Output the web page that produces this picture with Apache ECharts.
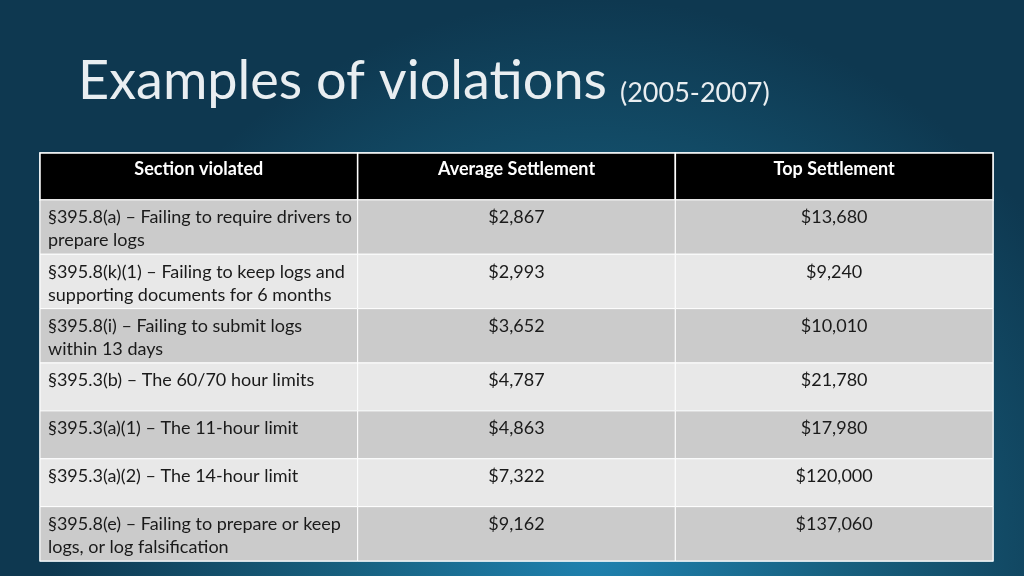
<!DOCTYPE html>
<html>
<head>
<meta charset="utf-8">
<script src="https://cdn.jsdelivr.net/npm/echarts@6/dist/echarts.min.js"></script>
<style>
  html, body { margin: 0; padding: 0; }
  #main { width: 1024px; height: 576px; }
</style>
</head>
<body>
<div id="main"></div>
<script>
// table content
var columns = ['Section violated', 'Average Settlement', 'Top Settlement'];
var sections = [
  '§395.8(a) – Failing to require drivers to\nprepare logs',
  '§395.8(k)(1) – Failing to keep logs and\nsupporting documents for 6 months',
  '§395.8(i) – Failing to submit logs\nwithin 13 days',
  '§395.3(b) – The 60/70 hour limits',
  '§395.3(a)(1) – The 11-hour limit',
  '§395.3(a)(2) – The 14-hour limit',
  '§395.8(e) – Failing to prepare or keep\nlogs, or log falsification'
];
var averageSettlement = [2867, 2993, 3652, 4787, 4863, 7322, 9162];
var topSettlement = [13680, 9240, 10010, 21780, 17980, 120000, 137060];

function money(v) { return '$' + v.toLocaleString('en-US'); }

// rows: header first, then body rows; height depends on line count
var rows = [columns];
for (var i = 0; i < sections.length; i++) {
  rows.push([sections[i], money(averageSettlement[i]), money(topSettlement[i])]);
}
function rowSize(r) {
  if (r === 0) return 47;
  return rows[r][0].split('\n').length > 1 ? 54.5 : 48;
}

var cells = [];
var y = 0;
for (var r = 0; r < rows.length; r++) {
  var h = rowSize(r);
  for (var c = 0; c < 3; c++) {
    cells.push([c, y, y + h, r]);
  }
  y += h;
}
var total = y;

var FONT = 'Lato, "Open Sans", sans-serif';

var chart = echarts.init(document.getElementById('main'));
chart.setOption({
  backgroundColor: {
    type: 'radial', x: 0.58, y: 0.95, r: 0.95,
    colorStops: [
      { offset: 0, color: '#1f82b0' },
      { offset: 0.45, color: '#17607f' },
      { offset: 1, color: '#0e3850' }
    ]
  },
  title: [
    { text: 'Examples of violations', left: 73, top: 50,
      textStyle: { color: '#e9eef1', fontFamily: FONT, fontSize: 54, fontWeight: 'normal' } },
    { text: '(2005-2007)', left: 615, top: 75,
      textStyle: { color: '#e9eef1', fontFamily: FONT, fontSize: 27, fontWeight: 'normal' } }
  ],
  grid: { left: 40, right: 31, top: 153, bottom: 15, show: true,
    borderColor: '#d3e6ee', borderWidth: 1.5, backgroundColor: 'transparent' },
  xAxis: { type: 'value', min: 0, max: 3, show: false },
  yAxis: { type: 'value', min: 0, max: total, inverse: true, show: false },
  series: [{
    type: 'custom',
    data: cells,
    encode: { x: 0, y: [1, 2] },
    renderItem: function (params, api) {
      var c = api.value(0), r = api.value(3);
      var p0 = api.coord([c, api.value(1)]);
      var p1 = api.coord([c + 1, api.value(2)]);
      var header = r === 0;
      var fill = header ? '#000000' : (r % 2 === 1 ? '#cbcbcb' : '#e8e8e8');
      var w = p1[0] - p0[0], h = p1[1] - p0[1];
      var left = c === 0 && !header;
      return {
        type: 'group',
        children: [{
          type: 'rect',
          shape: { x: p0[0], y: p0[1], width: w, height: h },
          style: { fill: fill, stroke: '#ffffff', lineWidth: header ? 1.5 : 1 }
        }, {
          type: 'text',
          x: left ? p0[0] + 8 : p0[0] + w / 2,
          y: p0[1] + (header ? 5 : 6),
          style: {
            text: rows[r][c],
            fill: header ? '#ffffff' : '#1a1a1a',
            font: (header ? 'bold ' : '') + '18px ' + FONT,
            lineHeight: 23,
            align: left ? 'left' : 'center',
            verticalAlign: 'top'
          }
        }]
      };
    }
  }]
});
</script>
</body>
</html>
